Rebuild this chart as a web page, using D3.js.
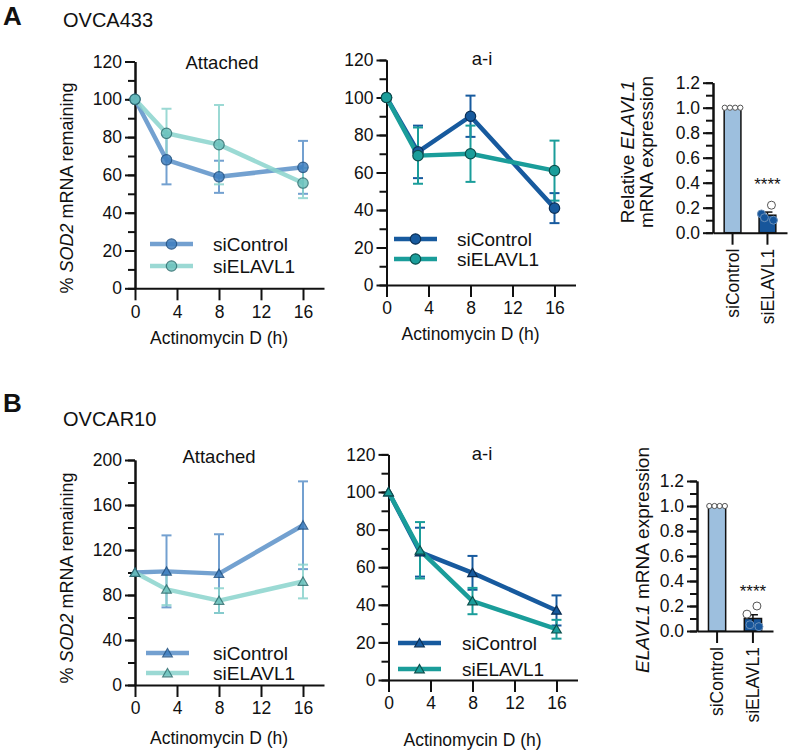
<!DOCTYPE html>
<html><head><meta charset="utf-8">
<script src="https://cdn.jsdelivr.net/npm/d3@7"></script>
<style>body{margin:0;background:#fff}svg{display:block;font-family:Arial,"Liberation Sans",Helvetica,sans-serif}</style>
</head><body>
<svg id="c" width="790" height="751"></svg>
<script>
// ---------- data ----------
const hours = [0, 3, 8, 16];
const xTicks = [0, 4, 8, 12, 16];
const seriesNames = ["siControl", "siELAVL1"];
// OVCA433 attached
const ovca433AttCtrl = [100, 68, 59, 64];
const ovca433AttCtrlSD = [0, 13, 8.5, 14];
const ovca433AttSi = [100, 82, 76, 55.7];
const ovca433AttSiSD = [0, 13, 21, 8];
// OVCA433 a-i
const ovca433AiCtrl = [100, 71, 90, 41];
const ovca433AiCtrlSD = [0, 14, 11, 8];
const ovca433AiSi = [100, 69, 70, 61];
const ovca433AiSiSD = [0, 15, 15, 16];
// OVCAR10 attached
const ovcar10AttCtrl = [100, 101, 99, 142];
const ovcar10AttCtrlSD = [0, 32, 35, 39];
const ovcar10AttSi = [100, 85, 75, 92];
const ovcar10AttSiSD = [0, 14, 11, 15];
// OVCAR10 a-i
const ovcar10AiCtrl = [100, 68, 57, 37];
const ovcar10AiCtrlSD = [0, 13, 9, 8];
const ovcar10AiSi = [100, 69, 42, 27];
const ovcar10AiSiSD = [0, 15, 7, 5];
// ELAVL1 knockdown bars
const barGroups = ["siControl", "siELAVL1"];
const ovca433Elavl = [1.0, 0.14];
const ovca433ElavlSEM = [0.005, 0.025];
const ovca433ElavlPts = [[1, 1, 1, 1], [0.22, 0.15, 0.12, 0.10]];
const ovcar10Elavl = [1.0, 0.10];
const ovcar10ElavlSEM = [0.005, 0.03];
const ovcar10ElavlPts = [[1, 1, 1, 1], [0.20, 0.135, 0.05, 0.035]];
const yTicksBar = [0, 0.2, 0.4, 0.6, 0.8, 1.0, 1.2];

// ---------- drawing ----------
const svg = d3.select("#c");
const FONT = 17.5;

function styleAxis(g){
  g.selectAll(".domain").attr("stroke","#111").attr("stroke-width",2);
  g.selectAll(".tick line").attr("stroke","#111").attr("stroke-width",2);
  g.selectAll(".tick text").attr("fill","#111").style("font-size",FONT+"px");
}

function richText(sel, parts){
  parts.forEach(p=>{
    sel.append("tspan").text(p[0]).style("font-style", p[1] ? "italic" : "normal");
  });
}

function linePanel(o){
  const x = d3.scaleLinear().domain([0,18]).range([o.x0, o.x0 + 18*10.5]);
  const y = d3.scaleLinear().domain([0,o.yMax]).range([o.y0, o.yTop]);
  const g = svg.append("g");
  const minor = d3.range(0, o.yMax + 0.001, o.minorStep);
  const major = d3.range(0, o.yMax + 0.001, o.majorStep);
  g.append("g").attr("transform",`translate(${o.x0},0)`)
    .call(d3.axisLeft(y).tickValues(minor).tickSize(7).tickSizeOuter(0).tickFormat(""))
    .call(styleAxis);
  g.append("g").attr("transform",`translate(${o.x0},0)`)
    .call(d3.axisLeft(y).tickValues(major).tickSize(10).tickSizeOuter(0).tickPadding(3).tickFormat(d3.format("d")))
    .call(styleAxis);
  g.append("g").attr("transform",`translate(0,${o.y0})`)
    .call(d3.axisBottom(x).tickValues(xTicks).tickSize(12).tickSizeOuter(0).tickPadding(5))
    .call(styleAxis);
  g.append("text").attr("x",o.titleX).attr("y",o.titleY).attr("text-anchor","middle")
    .style("font-size","18.5px").attr("fill","#111").text(o.title);
  g.append("text").attr("x",o.x0 + 8*10.5).attr("y",o.xlabY).attr("text-anchor","middle")
    .style("font-size","17.5px").attr("fill","#111").text("Actinomycin D (h)");
  const sym = o.marker === "tri" ? d3.symbol(d3.symbolTriangle).size(40) : d3.symbol(d3.symbolCircle).size(85);
  o.series.forEach(s=>{
    const pts = hours.map((h,i)=>({h, v:s.vals[i], sd:s.sd[i]}));
    const eg = g.append("g").attr("stroke",s.color).attr("stroke-width",2).attr("opacity",s.op);
    pts.filter(p=>p.sd>0).forEach(p=>{
      const cx = x(p.h);
      eg.append("line").attr("x1",cx).attr("x2",cx).attr("y1",y(p.v-p.sd)).attr("y2",y(p.v+p.sd));
      [p.v-p.sd, p.v+p.sd].forEach(e=>eg.append("line").attr("x1",cx-5).attr("x2",cx+5).attr("y1",y(e)).attr("y2",y(e)));
    });
  });
  o.series.forEach(s=>{
    const pts = hours.map((h,i)=>({h, v:s.vals[i]}));
    g.append("path").datum(pts).attr("fill","none").attr("stroke",s.color).attr("stroke-width",4.5)
      .attr("opacity",s.op).attr("stroke-linejoin","round")
      .attr("d", d3.line().x(d=>x(d.h)).y(d=>y(d.v)));
  });
  o.series.forEach(s=>{
    hours.forEach((h,i)=>{
      g.append("path").attr("d",sym).attr("transform",`translate(${x(h)},${y(s.vals[i]) + (o.marker==="tri"?1:0)})`)
        .attr("fill",s.fill).attr("stroke",s.edge).attr("stroke-width",1.2).attr("opacity",s.op);
    });
  });
  o.series.forEach((s,i)=>{
    const ly = o.legY[i];
    g.append("line").attr("x1",o.legX).attr("x2",o.legX+43).attr("y1",ly).attr("y2",ly)
      .attr("stroke",s.color).attr("stroke-width",4.5).attr("opacity",s.op);
    g.append("path").attr("d",sym).attr("transform",`translate(${o.legX+21.5},${ly+(o.marker==="tri"?1:0)})`)
      .attr("fill",s.fill).attr("stroke",s.edge).attr("stroke-width",1.2).attr("opacity",s.op);
    g.append("text").attr("x",o.legTextX).attr("y",ly).attr("dy","0.35em")
      .style("font-size","19px").attr("fill","#111").text(seriesNames[i]);
  });
}

function barPanel(o){
  const y = d3.scaleLinear().domain([0,1.2]).range([o.y0, o.y0 - 150]);
  const g = svg.append("g");
  g.append("g").attr("transform",`translate(${o.x0},0)`)
    .call(d3.axisLeft(y).tickValues(d3.range(0,1.201,0.1)).tickSize(7).tickSizeOuter(0).tickFormat(""))
    .call(styleAxis);
  g.append("g").attr("transform",`translate(${o.x0},0)`)
    .call(d3.axisLeft(y).tickValues(yTicksBar).tickSize(10).tickSizeOuter(0).tickPadding(3).tickFormat(d3.format(".1f")))
    .call(styleAxis);
  const x = d3.scaleBand().domain(barGroups).range([o.x0, o.xEnd]).paddingInner(0.52).paddingOuter(0.32);
  const xa = g.append("g").attr("transform",`translate(0,${o.y0})`)
    .call(d3.axisBottom(x).tickSize(12).tickSizeOuter(0).tickPadding(4))
    .call(styleAxis);
  xa.selectAll(".tick text").attr("transform","rotate(-90)").attr("text-anchor","end")
    .attr("x",-16).attr("y",0).attr("dy","0.35em");
  const fills = ["#9dbfde","#17569b"];
  barGroups.forEach((gname,i)=>{
    g.append("rect").attr("x",x(gname)).attr("width",x.bandwidth()).attr("y",y(o.vals[i]))
      .attr("height",y(0)-y(o.vals[i])).attr("fill",fills[i]).attr("stroke","#111").attr("stroke-width",1.5);
    const cx = x(gname)+x.bandwidth()/2;
    const e = o.sem[i];
    g.append("line").attr("x1",cx).attr("x2",cx).attr("y1",y(o.vals[i]-e)).attr("y2",y(o.vals[i]+e)).attr("stroke","#111").attr("stroke-width",1.5);
    g.append("line").attr("x1",cx-5).attr("x2",cx+5).attr("y1",y(o.vals[i]+e)).attr("y2",y(o.vals[i]+e)).attr("stroke","#111").attr("stroke-width",1.5);
    const offs = [-6,-2,2,6];
    o.pts[i].forEach((p,k)=>{
      const px = i===0 ? cx + offs[k]*1.3 : cx + [4,-6,-3,6][k];
      g.append("circle").attr("cx",px).attr("cy",y(p)).attr("r",i===0?2.6:4)
        .attr("fill", (i===1 && p>o.vals[i]+e) ? "#fff" : (i===0?"#fff":"#17569b")).attr("stroke", i===1 && p<=o.vals[i]+e ? "#6a8fb8" : "#555").attr("stroke-width",1);
    });
  });
  g.append("text").attr("x",x("siELAVL1")+x.bandwidth()/2).attr("y",o.starY).attr("text-anchor","middle")
    .style("font-size","17px").attr("fill","#111").text("****");
  o.ylab.forEach((line,i)=>{
    const t = g.append("text").attr("transform",`translate(${o.ylabX[i]},${o.ylabCY}) rotate(-90)`)
      .attr("text-anchor","middle").attr("dy","0.35em").style("font-size","19px").attr("fill","#111");
    richText(t, line);
  });
}

svg.append("text").attr("x",3).attr("y",25).style("font-size","26px").style("font-weight","bold").attr("fill","#111").text("A");
svg.append("text").attr("x",63).attr("y",27).style("font-size","20px").attr("fill","#111").text("OVCA433");
svg.append("text").attr("x",3).attr("y",412).style("font-size","26px").style("font-weight","bold").attr("fill","#111").text("B");
svg.append("text").attr("x",63).attr("y",426).style("font-size","20px").attr("fill","#111").text("OVCAR10");

[[67,188],[67,578]].forEach(p=>{
  const t = svg.append("text").attr("transform",`translate(${p[0]},${p[1]}) rotate(-90)`)
    .attr("text-anchor","middle").attr("dy","0.35em").style("font-size","18px").attr("fill","#111");
  richText(t, [["% ",0],["SOD2",1],[" mRNA remaining",0]]);
});

const lightCtrl = {color:"#5b90c8", fill:"#3f7fc0", edge:"#1f4f80", op:0.85};
const lightSi   = {color:"#8ad3cd", fill:"#6cc2bd", edge:"#2f6f70", op:0.85};
const darkCtrl  = {color:"#175a9e", fill:"#175a9e", edge:"#0b2f55", op:1};
const darkSi    = {color:"#1a9d9a", fill:"#1a9d9a", edge:"#0c4f4d", op:1};

linePanel({x0:135, y0:288.3, yTop:61.5, yMax:120, minorStep:10, majorStep:20, marker:"circle",
  title:"Attached", titleX:222, titleY:69, xlabY:344,
  legX:150, legY:[244,266], legTextX:213,
  series:[Object.assign({vals:ovca433AttCtrl, sd:ovca433AttCtrlSD}, lightCtrl),
          Object.assign({vals:ovca433AttSi, sd:ovca433AttSiSD}, lightSi)]});
linePanel({x0:386.5, y0:285, yTop:60, yMax:120, minorStep:10, majorStep:20, marker:"circle",
  title:"a-i", titleX:482, titleY:65, xlabY:340,
  legX:394, legY:[239,259], legTextX:457,
  series:[Object.assign({vals:ovca433AiCtrl, sd:ovca433AiCtrlSD}, darkCtrl),
          Object.assign({vals:ovca433AiSi, sd:ovca433AiSiSD}, darkSi)]});
linePanel({x0:135, y0:685, yTop:460, yMax:200, minorStep:20, majorStep:40, marker:"tri",
  title:"Attached", titleX:219, titleY:463, xlabY:744,
  legX:146, legY:[653,673], legTextX:213,
  series:[Object.assign({vals:ovcar10AttCtrl, sd:ovcar10AttCtrlSD}, lightCtrl),
          Object.assign({vals:ovcar10AttSi, sd:ovcar10AttSiSD}, lightSi)]});
linePanel({x0:388.5, y0:680, yTop:454.4, yMax:120, minorStep:10, majorStep:20, marker:"tri",
  title:"a-i", titleX:482, titleY:460, xlabY:746,
  legX:398, legY:[643,669], legTextX:462,
  series:[Object.assign({vals:ovcar10AiCtrl, sd:ovcar10AiCtrlSD}, darkCtrl),
          Object.assign({vals:ovcar10AiSi, sd:ovcar10AiSiSD}, darkSi)]});

barPanel({x0:713, xEnd:787, y0:232.7, vals:ovca433Elavl, sem:ovca433ElavlSEM, pts:ovca433ElavlPts, starY:190,
  ylab:[[["Relative ",0],["ELAVL1",1]],[["mRNA expression",0]]], ylabX:[627,646], ylabCY:152});
barPanel({x0:697, xEnd:773, y0:631, vals:ovcar10Elavl, sem:ovcar10ElavlSEM, pts:ovcar10ElavlPts, starY:597,
  ylab:[[["ELAVL1",1],[" mRNA expression",0]]], ylabX:[642], ylabCY:560});
</script>
</body></html>
